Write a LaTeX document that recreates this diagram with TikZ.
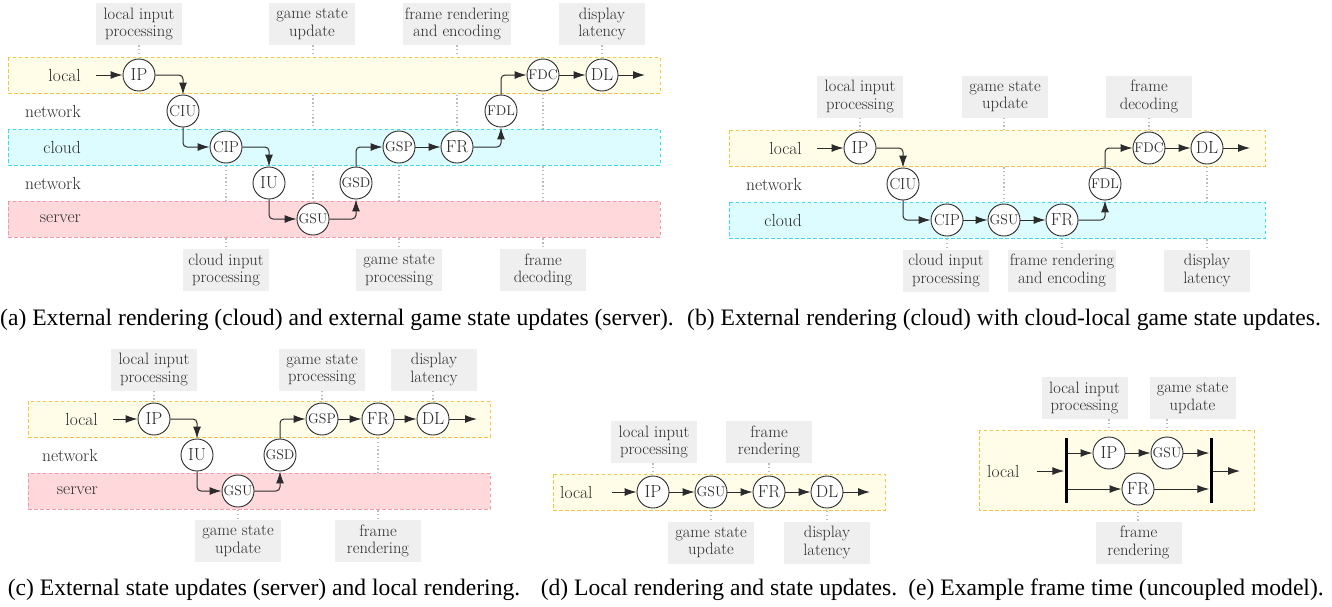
\documentclass[tikz,border=0pt]{standalone}
\usepackage{fontspec}
\newfontfamily\capfont{Liberation Serif}
\usetikzlibrary{arrows.meta,positioning}

\definecolor{ink}{HTML}{2B2B2B}
\definecolor{localfill}{HTML}{FFFDE8}
\definecolor{localline}{HTML}{F6C343}
\definecolor{cloudfill}{HTML}{DDFCFF}
\definecolor{cloudline}{HTML}{3CDDEB}
\definecolor{serverfill}{HTML}{FFD8DB}
\definecolor{serverline}{HTML}{F29BA6}
\definecolor{tagfill}{HTML}{EFEFEF}
\definecolor{guidegray}{HTML}{BDBDBD}

\pgfdeclarelayer{guides}
\pgfdeclarelayer{bands}
\pgfsetlayers{guides,bands,main}

\tikzset{
  band/.style={dashed, line width=0.8pt, dash pattern=on 3.5pt off 2.5pt},
  localband/.style={band, draw=localline, fill=localfill},
  cloudband/.style={band, draw=cloudline, fill=cloudfill},
  serverband/.style={band, draw=serverline, fill=serverfill},
  stage/.style={circle, draw=ink, fill=white, line width=0.9pt, minimum size=32pt,
    inner sep=0pt, text=ink, font=\fontsize{17.5}{18}\selectfont},
  stagem/.style={stage, font=\fontsize{16}{16}\selectfont},
  stages/.style={stage, font=\fontsize{14}{14}\selectfont},
  tag/.style={fill=tagfill, minimum width=86pt, minimum height=42pt, inner sep=2pt,
    align=center, text=ink, font=\fontsize{16.5}{17.5}\selectfont},
  rowlab/.style={anchor=east, inner sep=0pt, text=ink, font=\fontsize{17.5}{18}\selectfont},
  guide/.style={draw=guidegray, line width=1.6pt, dash pattern=on 1.4pt off 2.4pt},
  flow/.style={draw=ink, line width=1pt, rounded corners=4pt,
    -{Latex[length=12pt,width=8pt]}},
  bar/.style={fill=black, inner sep=0pt, minimum width=3pt, minimum height=65pt},
  caption/.style={inner sep=0pt, text=black, font=\capfont\fontsize{23.6}{25}\selectfont},
}

\begin{document}
\begin{tikzpicture}[x=1pt,y=-1pt]
\useasboundingbox (0,0) rectangle (1332,606);

% ---------------- (a) cloud rendering, server game state ----------------
\begin{pgfonlayer}{bands}
  \path[localband]  (8,57)  rectangle (660,93);
  \path[cloudband]  (8,129) rectangle (660,165);
  \path[serverband] (8,201) rectangle (660,237);
\end{pgfonlayer}
\node[rowlab] (aRl) at (81,75)  {local};
\node[rowlab] (aRn1) at (81,111) {network};
\node[rowlab] (aRc) at (81,147) {cloud};
\node[rowlab] (aRn2) at (81,183) {network};
\node[rowlab] (aRs) at (81,219) {server};

\node[stage]  (aIP)  at (139,75)  {IP};
\node[stagem] (aCIU) at (183,111) {CIU};
\node[stagem] (aCIP) at (226,147) {CIP};
\node[stage]  (aIU)  at (269,183) {IU};
\node[stages] (aGSU) at (313,219) {GSU};
\node[stages] (aGSD) at (356,183) {GSD};
\node[stages] (aGSP) at (399,147) {GSP};
\node[stage]  (aFR)  at (457,147) {FR};
\node[stages] (aFDL) at (501,111) {FDL};
\node[stages] (aFDC) at (543,75)  {FDC};
\node[stage]  (aDL)  at (602,75)  {DL};
\coordinate (aIn)  at (96,75);
\coordinate (aOut) at (645,75);

\node[tag] (aT1) at (139,24) {local input\\processing};
\node[tag] (aT2) at (312,24) {game state\\update};
\node[tag] (aT3) at (457,24) {frame rendering\\and encoding};
\node[tag] (aT4) at (602,24) {display\\latency};
\node[tag] (aB1) at (226,270) {cloud input\\processing};
\node[tag] (aB2) at (399,270) {game state\\processing};
\node[tag] (aB3) at (543,270) {frame\\decoding};

\begin{pgfonlayer}{guides}
  \draw[guide] (aIP |- aT1.south) -- (aIP.center);
  \draw[guide] (aGSU |- aT2.south) -- (aGSU.center);
  \draw[guide] (aFR |- aT3.south) -- (aFR.center);
  \draw[guide] (aDL |- aT4.south) -- (aDL.center);
  \draw[guide] (aCIP.center) -- (aCIP |- aB1.north);
  \draw[guide] (aGSP.center) -- (aGSP |- aB2.north);
  \draw[guide] (aFDC.center) -- (aFDC |- aB3.north);
\end{pgfonlayer}

\draw[flow] (aIn) -- (aIP);
\draw[flow] (aIP) -| (aCIU);
\draw[flow] (aCIU) |- (aCIP);
\draw[flow] (aCIP) -| (aIU);
\draw[flow] (aIU) |- (aGSU);
\draw[flow] (aGSU) -| (aGSD);
\draw[flow] (aGSD) |- (aGSP);
\draw[flow] (aGSP) -- (aFR);
\draw[flow] (aFR) -| (aFDL);
\draw[flow] (aFDL) |- (aFDC);
\draw[flow] (aFDC) -- (aDL);
\draw[flow] (aDL) -- (aOut);

\node[caption] (capA) at (337,320) {(a) External rendering (cloud) and external game state updates (server).};

% ---------------- (b) cloud rendering, cloud-local game state ----------------
\begin{pgfonlayer}{bands}
  \path[localband] (729,130) rectangle (1265,166);
  \path[cloudband] (729,202) rectangle (1265,238);
\end{pgfonlayer}
\node[rowlab] (bRl) at (802,148) {local};
\node[rowlab] (bRn) at (802,184) {network};
\node[rowlab] (bRc) at (802,220) {cloud};

\node[stage]  (bIP)  at (860,148)  {IP};
\node[stagem] (bCIU) at (903,184)  {CIU};
\node[stagem] (bCIP) at (947,220)  {CIP};
\node[stages] (bGSU) at (1004,220) {GSU};
\node[stage]  (bFR)  at (1062,220) {FR};
\node[stages] (bFDL) at (1105,184) {FDL};
\node[stages] (bFDC) at (1149,148) {FDC};
\node[stage]  (bDL)  at (1207,148) {DL};
\coordinate (bIn)  at (817,148);
\coordinate (bOut) at (1250,148);

\node[tag] (bT1) at (860,96.5)  {local input\\processing};
\node[tag] (bT2) at (1005,96.5) {game state\\update};
\node[tag] (bT3) at (1149,96.5) {frame\\decoding};
\node[tag] (bB1) at (946,270.5)  {cloud input\\processing};
\node[tag] (bB2) at (1062,270.5) {frame rendering\\and encoding};
\node[tag] (bB3) at (1207,270.5) {display\\latency};

\begin{pgfonlayer}{guides}
  \draw[guide] (bIP |- bT1.south) -- (bIP.center);
  \draw[guide] (bGSU |- bT2.south) -- (bGSU.center);
  \draw[guide] (bFDC |- bT3.south) -- (bFDC.center);
  \draw[guide] (bCIP.center) -- (bCIP |- bB1.north);
  \draw[guide] (bFR.center) -- (bFR |- bB2.north);
  \draw[guide] (bDL.center) -- (bDL |- bB3.north);
\end{pgfonlayer}

\draw[flow] (bIn) -- (bIP);
\draw[flow] (bIP) -| (bCIU);
\draw[flow] (bCIU) |- (bCIP);
\draw[flow] (bCIP) -- (bGSU);
\draw[flow] (bGSU) -- (bFR);
\draw[flow] (bFR) -| (bFDL);
\draw[flow] (bFDL) |- (bFDC);
\draw[flow] (bFDC) -- (bDL);
\draw[flow] (bDL) -- (bOut);

\node[caption] (capB) at (1004,320) {(b) External rendering (cloud) with cloud-local game state updates.};

% ---------------- (c) server game state, local rendering ----------------
\begin{pgfonlayer}{bands}
  \path[localband]  (28,401) rectangle (490,437);
  \path[serverband] (28,473) rectangle (490,509);
\end{pgfonlayer}
\node[rowlab] (cRl) at (98,419) {local};
\node[rowlab] (cRn) at (98,455) {network};
\node[rowlab] (cRs) at (98,491) {server};

\node[stage]  (cIP)  at (154,419) {IP};
\node[stage]  (cIU)  at (197,455) {IU};
\node[stages] (cGSU) at (238,491) {GSU};
\node[stages] (cGSD) at (280,455) {GSD};
\node[stages] (cGSP) at (322,419) {GSP};
\node[stage]  (cFR)  at (378,419) {FR};
\node[stage]  (cDL)  at (433,419) {DL};
\coordinate (cIn)  at (113,419);
\coordinate (cOut) at (477,419);

\node[tag] (cT1) at (154,369.5) {local input\\processing};
\node[tag] (cT2) at (322,369.5) {game state\\processing};
\node[tag] (cT3) at (434,369.5) {display\\latency};
\node[tag] (cB1) at (238,541) {game state\\update};
\node[tag] (cB2) at (378,541) {frame\\rendering};

\begin{pgfonlayer}{guides}
  \draw[guide] (cIP |- cT1.south) -- (cIP.center);
  \draw[guide] (cGSP |- cT2.south) -- (cGSP.center);
  \draw[guide] (cDL |- cT3.south) -- (cDL.center);
  \draw[guide] (cGSU.center) -- (cGSU |- cB1.north);
  \draw[guide] (cFR.center) -- (cFR |- cB2.north);
\end{pgfonlayer}

\draw[flow] (cIn) -- (cIP);
\draw[flow] (cIP) -| (cIU);
\draw[flow] (cIU) |- (cGSU);
\draw[flow] (cGSU) -| (cGSD);
\draw[flow] (cGSD) |- (cGSP);
\draw[flow] (cGSP) -- (cFR);
\draw[flow] (cFR) -- (cDL);
\draw[flow] (cDL) -- (cOut);

\node[caption] (capC) at (264,590) {(c) External state updates (server) and local rendering.};

% ---------------- (d) local rendering and state updates ----------------
\begin{pgfonlayer}{bands}
  \path[localband] (553,474) rectangle (885,510);
\end{pgfonlayer}
\node[rowlab, anchor=west] (dRl) at (560,492) {local};

\node[stage]  (dIP)  at (653,492) {IP};
\node[stages] (dGSU) at (711,492) {GSU};
\node[stage]  (dFR)  at (769,492) {FR};
\node[stage]  (dDL)  at (827,492) {DL};
\coordinate (dIn)  at (612,492);
\coordinate (dOut) at (870,492);

\node[tag] (dT1) at (654,442) {local input\\processing};
\node[tag] (dT2) at (769,442) {frame\\rendering};
\node[tag] (dB1) at (711,542.5) {game state\\update};
\node[tag] (dB2) at (827,542.5) {display\\latency};

\begin{pgfonlayer}{guides}
  \draw[guide] (dIP |- dT1.south) -- (dIP.center);
  \draw[guide] (dFR |- dT2.south) -- (dFR.center);
  \draw[guide] (dGSU.center) -- (dGSU |- dB1.north);
  \draw[guide] (dDL.center) -- (dDL |- dB2.north);
\end{pgfonlayer}

\draw[flow] (dIn) -- (dIP);
\draw[flow] (dIP) -- (dGSU);
\draw[flow] (dGSU) -- (dFR);
\draw[flow] (dFR) -- (dDL);
\draw[flow] (dDL) -- (dOut);

\node[caption] (capD) at (719,590) {(d) Local rendering and state updates.};

% ---------------- (e) frame time, uncoupled model ----------------
\begin{pgfonlayer}{bands}
  \path[localband] (979,430) rectangle (1254,510);
\end{pgfonlayer}
\node[rowlab, anchor=west] (eRl) at (987,471) {local};

\node[bar] (eLbar) at (1066,470.5) {};
\node[bar] (eRbar) at (1211,470.5) {};
\node[stage]  (eIP)  at (1109,453) {IP};
\node[stages] (eGSU) at (1167,453) {GSU};
\node[stage]  (eFR)  at (1138,489) {FR};
\coordinate (eIn)  at (1037,471);
\coordinate (eOut) at (1240,471);

\node[tag] (eT1) at (1084.5,398) {local input\\processing};
\node[tag] (eT2) at (1192.5,398) {game state\\update};
\node[tag] (eB1) at (1138.5,542.5) {frame\\rendering};

\begin{pgfonlayer}{guides}
  \draw[guide] (eIP |- eT1.south) -- (eIP.center);
  \draw[guide] (eGSU |- eT2.south) -- (eGSU.center);
  \draw[guide] (eFR.center) -- (eFR |- eB1.north);
\end{pgfonlayer}

\draw[flow] (eIn) -- (eLbar.west |- eIn);
\draw[flow] (eLbar.east |- eIP) -- (eIP);
\draw[flow] (eIP) -- (eGSU);
\draw[flow] (eGSU) -- (eRbar.west |- eGSU);
\draw[flow] (eLbar.east |- eFR) -- (eFR);
\draw[flow] (eFR) -- (eRbar.west |- eFR);
\draw[flow] (eRbar.east |- eOut) -- (eOut);

\node[caption] (capE) at (1116,590) {(e) Example frame time (uncoupled model).};
\end{tikzpicture}
\end{document}
